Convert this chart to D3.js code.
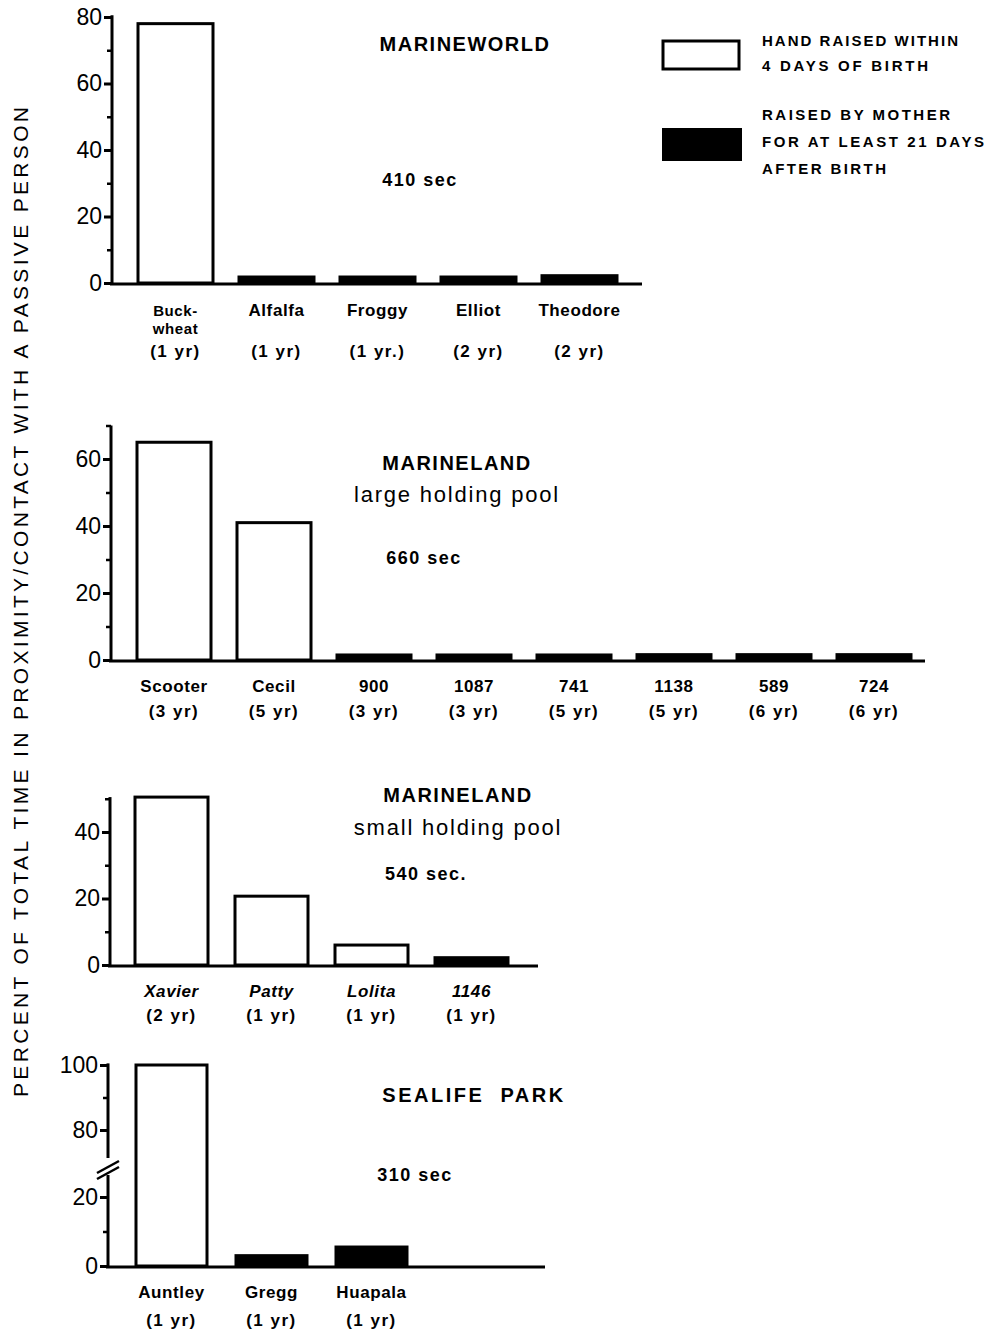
<!DOCTYPE html>
<html>
<head>
<meta charset="utf-8">
<script src="https://cdn.jsdelivr.net/npm/d3@7"></script>
<style>
  body { margin: 0; background: #fff; }
  svg text { font-family: "Liberation Sans", Arial, sans-serif; fill: #000; }
</style>
</head>
<body>
<div id="chart"></div>
<script>
// ---- data ----
// Marineworld
const mwNames = [["Buck-", "wheat"], ["Alfalfa"], ["Froggy"], ["Elliot"], ["Theodore"]];
const mwAges = ["(1 yr)", "(1 yr)", "(1 yr.)", "(2 yr)", "(2 yr)"];
const mwValues = [78, 1.8, 1.8, 1.8, 2.2];
const mwHand = [true, false, false, false, false];

// Marineland large holding pool
const mlNames = [["Scooter"], ["Cecil"], ["900"], ["1087"], ["741"], ["1138"], ["589"], ["724"]];
const mlAges = ["(3 yr)", "(5 yr)", "(3 yr)", "(3 yr)", "(5 yr)", "(5 yr)", "(6 yr)", "(6 yr)"];
const mlValues = [65, 41, 1.5, 1.5, 1.5, 1.6, 1.6, 1.6];
const mlHand = [true, true, false, false, false, false, false, false];

// Marineland small holding pool
const msNames = [["Xavier"], ["Patty"], ["Lolita"], ["1146"]];
const msAges = ["(2 yr)", "(1 yr)", "(1 yr)", "(1 yr)"];
const msValues = [50.5, 20.7, 6, 2.2];
const msHand = [true, true, true, false];

// Sealife Park
const spNames = [["Auntley"], ["Gregg"], ["Huapala"]];
const spAges = ["(1 yr)", "(1 yr)", "(1 yr)"];
const spValues = [100, 3, 5.5];
const spHand = [true, false, false];

const panelTitles = [["MARINEWORLD"], ["MARINELAND", "large holding pool"], ["MARINELAND", "small holding pool"], ["SEALIFE  PARK"]];
const panelDurations = ["410 sec", "660 sec", "540 sec.", "310 sec"];
const majorTicks = [[0, 20, 40, 60, 80], [0, 20, 40, 60], [0, 20, 40], [0, 20, 80, 100]];
const minorTicks = [[10, 30, 50, 70], [10, 30, 50, 70], [10, 30, 50], [10, 90]];

const legendLabels = [["HAND RAISED WITHIN", "4 DAYS OF BIRTH"], ["RAISED BY MOTHER", "FOR AT LEAST 21 DAYS", "AFTER BIRTH"]];
const yLabel = "PERCENT OF TOTAL TIME IN PROXIMITY/CONTACT WITH A PASSIVE PERSON";

// ---- layout ----
const W = 985, H = 1335;
const svg = d3.select("#chart").append("svg").attr("width", W).attr("height", H);

const panels = [
    {names: mwNames, ages: mwAges, values: mwValues, hand: mwHand,
     axisX: 112, yDom: [0, 80], yRng: [283, 17], axisTop: 80.5,
     barStart: 138, step: 101, barW: 75, baseEnd: 642,
     nameY: 310, ageY: 351, italic: false,
     titleX: 465, titleY: [44], titleSp: 1.5, durX: 420, durY: 180},
    {names: mlNames, ages: mlAges, values: mlValues, hand: mlHand,
     axisX: 111, yDom: [0, 60], yRng: [660, 459], axisTop: 70,
     barStart: 137, step: 100, barW: 74, baseEnd: 925,
     nameY: 686, ageY: 711, italic: false,
     titleX: 457, titleY: [463, 494], titleSp: 1.5, durX: 424, durY: 558},
    {names: msNames, ages: msAges, values: msValues, hand: msHand,
     axisX: 110, yDom: [0, 40], yRng: [965, 832], axisTop: 50.5,
     barStart: 135, step: 100, barW: 73, baseEnd: 538,
     nameY: 991, ageY: 1015, italic: true,
     titleX: 458, titleY: [795, 827], titleSp: 1.5, durX: 426, durY: 874},
    {names: spNames, ages: spAges, values: spValues, hand: spHand,
     axisX: 108, yDom: [0, 20, 80, 100], yRng: [1266, 1197, 1130, 1065], axisTop: 100.5,
     barStart: 136, step: 100, barW: 71, baseEnd: 545,
     nameY: 1292, ageY: 1320, italic: false,
     titleX: 474, titleY: [1095], titleSp: 2.5, durX: 415, durY: 1175, brk: true}
];

panels.forEach(function(p, k) {
    const g = svg.append("g");
    const keys = p.names.map(function(d) { return d.join(""); });

    const y = d3.scaleLinear().domain(p.yDom).range(p.yRng);
    const x = d3.scaleBand()
        .domain(keys)
        .range([p.barStart, p.barStart + p.step * (keys.length - 1) + p.barW])
        .paddingInner(1 - p.barW / p.step)
        .paddingOuter(0);

    const rows = keys.map(function(key, i) {
        return {key: key, lines: p.names[i], age: p.ages[i], value: p.values[i], hand: p.hand[i]};
    });

    // bars
    g.selectAll("rect.bar")
        .data(rows)
        .enter()
        .append("rect")
        .attr("class", "bar")
        .attr("x", function(d) { return x(d.key); })
        .attr("y", function(d) { return y(d.value); })
        .attr("width", x.bandwidth())
        .attr("height", function(d) { return y(0) - y(d.value); })
        .attr("fill", function(d) { return d.hand ? "#fff" : "#000"; })
        .attr("stroke", "#000")
        .attr("stroke-width", 3);

    // baseline
    g.append("line")
        .attr("x1", p.axisX - 2).attr("x2", p.baseEnd)
        .attr("y1", y(0) + 1).attr("y2", y(0) + 1)
        .attr("stroke", "#000").attr("stroke-width", 3);

    // y axis, major ticks
    const yAxis = g.append("g")
        .attr("transform", `translate(${p.axisX},0)`)
        .call(d3.axisLeft(y).tickValues(majorTicks[k]).tickSize(8).tickSizeOuter(0).tickPadding(2));
    yAxis.select(".domain").remove();
    yAxis.selectAll(".tick line").attr("stroke-width", 3);
    yAxis.selectAll(".tick text")
        .style("font-size", "23px")
        .style("font-family", "'Liberation Sans', Arial, sans-serif");

    // minor ticks
    const minor = g.append("g")
        .attr("transform", `translate(${p.axisX},0)`)
        .call(d3.axisLeft(y).tickValues(minorTicks[k]).tickSize(5).tickFormat(""));
    minor.select(".domain").remove();
    minor.selectAll(".tick line").attr("stroke-width", 2.5);

    // axis line
    if (p.brk) {
        const yb1 = y(20) - 22, yb2 = y(80) + 28;
        g.append("line").attr("x1", p.axisX).attr("x2", p.axisX)
            .attr("y1", y(0) + 2).attr("y2", yb1)
            .attr("stroke", "#000").attr("stroke-width", 3);
        g.append("line").attr("x1", p.axisX).attr("x2", p.axisX)
            .attr("y1", yb2).attr("y2", y(p.axisTop))
            .attr("stroke", "#000").attr("stroke-width", 3);
        [0, 6].forEach(function(off) {
            g.append("line")
                .attr("x1", p.axisX - 11).attr("x2", p.axisX + 11)
                .attr("y1", yb1 + 4 - off).attr("y2", yb1 - 8 - off)
                .attr("stroke", "#000").attr("stroke-width", 2.5);
        });
    } else {
        g.append("line").attr("x1", p.axisX).attr("x2", p.axisX)
            .attr("y1", y(0) + 2).attr("y2", y(p.axisTop))
            .attr("stroke", "#000").attr("stroke-width", 3);
    }

    // bar labels
    rows.forEach(function(d) {
        const cx = x(d.key) + x.bandwidth() / 2;
        d.lines.forEach(function(line, j) {
            g.append("text")
                .attr("x", cx).attr("y", p.nameY + j * 18)
                .attr("text-anchor", "middle")
                .attr("dominant-baseline", "central")
                .style("font-size", d.lines.length > 1 ? "15px" : "17px")
                .style("font-weight", "bold")
                .style("letter-spacing", "0.6px")
                .style("font-style", p.italic ? "italic" : "normal")
                .text(line);
        });
        g.append("text")
            .attr("x", cx).attr("y", p.ageY)
            .attr("text-anchor", "middle")
            .attr("dominant-baseline", "central")
            .style("font-size", "17px")
            .style("font-weight", "bold")
            .style("letter-spacing", "1.5px")
            .attr("xml:space", "preserve")
            .text(d.age);
    });

    // panel title
    panelTitles[k].forEach(function(t, j) {
        g.append("text")
            .attr("x", p.titleX).attr("y", p.titleY[j])
            .attr("text-anchor", "middle")
            .attr("dominant-baseline", "central")
            .style("font-size", j == 0 ? "20px" : "22px")
            .style("font-weight", j == 0 ? "bold" : "normal")
            .style("letter-spacing", j == 0 ? p.titleSp + "px" : "1.8px")
            .style("white-space", "pre")
            .attr("xml:space", "preserve")
            .text(t);
    });

    g.append("text")
        .attr("x", p.durX).attr("y", p.durY)
        .attr("text-anchor", "middle")
        .attr("dominant-baseline", "central")
        .style("font-size", "18px")
        .style("font-weight", "bold")
        .style("letter-spacing", "1.5px")
        .text(panelDurations[k]);
});

// legend
const legend = svg.append("g");
legend.append("rect")
    .attr("x", 663).attr("y", 41).attr("width", 76).attr("height", 28)
    .attr("fill", "#fff").attr("stroke", "#000").attr("stroke-width", 3);
legend.append("rect")
    .attr("x", 662).attr("y", 128).attr("width", 80).attr("height", 33)
    .attr("fill", "#000");

const legendY = [[40, 65], [114, 141, 168]];
const legendLen = [[196, 166], [188, 222, 124]];
legendLabels.forEach(function(lines, i) {
    lines.forEach(function(t, j) {
        legend.append("text")
            .attr("x", 762).attr("y", legendY[i][j])
            .attr("dominant-baseline", "central")
            .attr("textLength", legendLen[i][j])
            .attr("lengthAdjust", "spacing")
            .style("font-size", "15px")
            .style("font-weight", "bold")
            .text(t);
    });
});

// y axis title
svg.append("text")
    .attr("transform", "translate(20,602) rotate(-90)")
    .attr("text-anchor", "middle")
    .attr("dominant-baseline", "central")
    .attr("textLength", 990)
    .attr("lengthAdjust", "spacing")
    .style("font-size", "21px")
    .text(yLabel);
</script>
</body>
</html>
